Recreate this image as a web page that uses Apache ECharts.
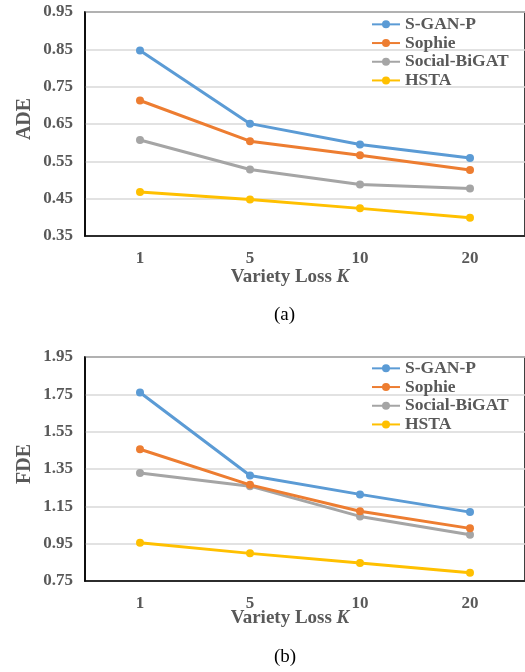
<!DOCTYPE html>
<html>
<head>
<meta charset="utf-8">
<script src="https://cdn.jsdelivr.net/npm/echarts@6/dist/echarts.min.js"></script>
<style>
  html, body { margin: 0; padding: 0; background: #fff; }
  #main { width: 525px; height: 672px; }
</style>
</head>
<body>
<div id="main"></div>
<script>
  // data
  const kValues = ['1', '5', '10', '20'];
  const seriesNames = ['S-GAN-P', 'Sophie', 'Social-BiGAT', 'HSTA'];
  const adeSGAN = [0.847, 0.651, 0.595, 0.559];
  const adeSophie = [0.713, 0.604, 0.566, 0.527];
  const adeBiGAT = [0.607, 0.528, 0.488, 0.477];
  const adeHSTA = [0.468, 0.448, 0.424, 0.399];
  const fdeSGAN = [1.76, 1.315, 1.214, 1.119];
  const fdeSophie = [1.456, 1.265, 1.124, 1.032];
  const fdeBiGAT = [1.329, 1.258, 1.096, 0.998];
  const fdeHSTA = [0.955, 0.898, 0.846, 0.794];
  const adeTicks = { min: 0.35, max: 0.95, step: 0.1 };
  const fdeTicks = { min: 0.75, max: 1.95, step: 0.2 };

  const colors = ['#5B9BD5', '#ED7D31', '#A5A5A5', '#FFC000'];
  const font = 'Liberation Serif';
  const gray = '#595959';

  let myChart = echarts.init(document.getElementById('main'), null, { renderer: 'canvas' });

  function makeSeries(lists, idx) {
    return lists.map(function (d, i) {
      return {
        name: seriesNames[i],
        type: 'line',
        xAxisIndex: idx,
        yAxisIndex: idx,
        data: d,
        symbol: 'circle',
        symbolSize: 8,
        lineStyle: { width: 3, color: colors[i] },
        itemStyle: { color: colors[i] },
        z: 10 - i
      };
    });
  }

  function xAxisOf(idx, gap) {
    return {
      gridIndex: idx,
      type: 'category',
      data: kValues,
      boundaryGap: true,
      axisLine: { lineStyle: { color: '#000', width: 1.5 } },
      axisTick: { show: false },
      axisLabel: { color: gray, fontFamily: font, fontWeight: 'bold', fontSize: 17, margin: 14 },
      name: '{n|Variety Loss }{k|K}',
      nameLocation: 'middle',
      nameGap: gap,
      nameMoveOverlap: false,
      nameTextStyle: {
        padding: [0, 30, 0, 0],
        rich: {
          n: { color: gray, fontFamily: font, fontWeight: 'bold', fontSize: 19 },
          k: { color: gray, fontFamily: font, fontWeight: 'bold', fontStyle: 'italic', fontSize: 19 }
        }
      }
    };
  }

  function yAxisOf(idx, t, name) {
    return {
      gridIndex: idx,
      type: 'value',
      min: t.min,
      max: t.max,
      interval: t.step,
      axisLine: { show: true, lineStyle: { color: '#000', width: 1.5 } },
      axisTick: { show: false },
      splitLine: { lineStyle: { color: '#d9d9d9', width: 1.5 } },
      axisLabel: {
        color: gray, fontFamily: font, fontWeight: 'bold', fontSize: 17, margin: 12,
        formatter: function (v) { return v.toFixed(2); }
      },
      name: name,
      nameLocation: 'middle',
      nameRotate: 90,
      nameGap: 50,
      nameMoveOverlap: false,
      nameTextStyle: { color: gray, fontFamily: font, fontWeight: 'bold', fontSize: 20, padding: [0, 0, 0, 10] }
    };
  }

  function legendOf(top) {
    return {
      data: seriesNames,
      orient: 'vertical',
      left: 366,
      top: top,
      itemWidth: 28,
      itemHeight: 10,
      itemGap: 0,
      textStyle: { color: gray, fontFamily: font, fontWeight: 'bold', fontSize: 17.5, lineHeight: 18.7 }
    };
  }

  let option = {
    backgroundColor: '#fff',
    animation: false,
    grid: [
      { left: 85, top: 12, width: 441, height: 224, show: true, borderColor: '#000', borderWidth: 1.5 },
      { left: 85, top: 357, width: 441, height: 224, show: true, borderColor: '#000', borderWidth: 1.5 }
    ],
    legend: [legendOf(10), legendOf(354)],
    xAxis: [xAxisOf(0, 32), xAxisOf(1, 28)],
    yAxis: [yAxisOf(0, adeTicks, 'ADE'), yAxisOf(1, fdeTicks, 'FDE')],
    series: makeSeries([adeSGAN, adeSophie, adeBiGAT, adeHSTA], 0)
      .concat(makeSeries([fdeSGAN, fdeSophie, fdeBiGAT, fdeHSTA], 1)),
    graphic: [
      { type: 'text', left: 274, top: 306, style: { text: '(a)', fill: '#000', font: '19px "Liberation Serif"' } },
      { type: 'text', left: 274, top: 648, style: { text: '(b)', fill: '#000', font: '19px "Liberation Serif"' } }
    ]
  };

  myChart.setOption(option);
</script>
</body>
</html>
